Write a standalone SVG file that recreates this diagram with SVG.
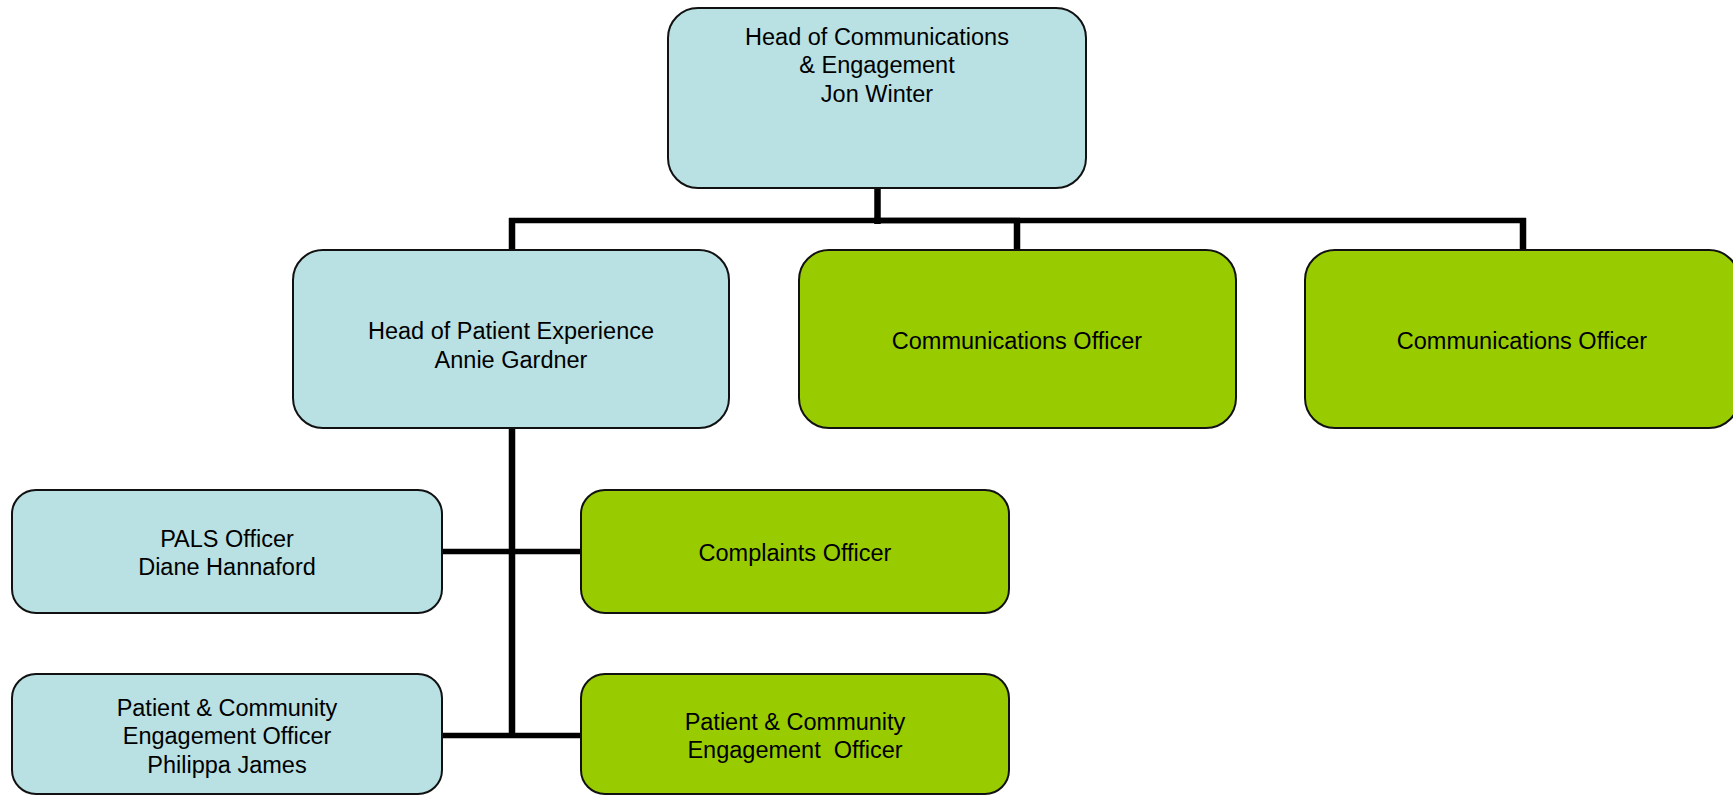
<svg xmlns="http://www.w3.org/2000/svg" width="1733" height="795" viewBox="0 0 1733 795">
<style>
.blue{fill:#B9E0E3;stroke:#111;stroke-width:2}
.green{fill:#99CC00;stroke:#111;stroke-width:2}
text{font-family:"Liberation Sans",Arial,sans-serif;font-size:23.5px;fill:#000;text-anchor:middle}
.h{stroke:#000;stroke-width:5.5;fill:none}
.v{stroke:#000;stroke-width:6.5;fill:none}
</style>
<rect width="1733" height="795" fill="#fff"/>
<g id="connectors">
<line class="v" x1="877.5" y1="189" x2="877.5" y2="224"/>
<line class="h" x1="509" y1="220.5" x2="1526" y2="220.5"/>
<line class="h" x1="874" y1="220.5" x2="1020" y2="220.5" stroke-width="7.5"/>
<line class="v" x1="512" y1="218" x2="512" y2="249"/>
<line class="v" x1="1017" y1="218" x2="1017" y2="249"/>
<line class="v" x1="1523" y1="218" x2="1523" y2="249"/>
<line class="v" x1="512" y1="429" x2="512" y2="738"/>
<line class="h" x1="442" y1="551.5" x2="580" y2="551.5"/>
<line class="h" x1="442" y1="735.5" x2="580" y2="735.5"/>
</g>
<g id="head-comms">
<rect class="blue" x="668" y="8" width="418" height="180" rx="30"/>
<text x="877" y="45">Head of Communications</text>
<text x="877" y="73">&amp; Engagement</text>
<text x="877" y="102">Jon Winter</text>
</g>
<g id="head-patient">
<rect class="blue" x="293" y="250" width="436" height="178" rx="30"/>
<text x="511" y="339">Head of Patient Experience</text>
<text x="511" y="368">Annie Gardner</text>
</g>
<g id="comms-officer-1">
<rect class="green" x="799" y="250" width="437" height="178" rx="30"/>
<text x="1017" y="349">Communications Officer</text>
</g>
<g id="comms-officer-2">
<rect class="green" x="1305" y="250" width="434" height="178" rx="30"/>
<text x="1522" y="349">Communications Officer</text>
</g>
<g id="pals">
<rect class="blue" x="12" y="490" width="430" height="123" rx="24"/>
<text x="227" y="547">PALS Officer</text>
<text x="227" y="575">Diane Hannaford</text>
</g>
<g id="pce-officer-left">
<rect class="blue" x="12" y="674" width="430" height="120" rx="24"/>
<text x="227" y="716">Patient &amp; Community</text>
<text x="227" y="744">Engagement Officer</text>
<text x="227" y="773">Philippa James</text>
</g>
<g id="complaints">
<rect class="green" x="581" y="490" width="428" height="123" rx="24"/>
<text x="795" y="561">Complaints Officer</text>
</g>
<g id="pce-officer-right">
<rect class="green" x="581" y="674" width="428" height="120" rx="24"/>
<text x="795" y="730">Patient &amp; Community</text>
<text x="795" y="758" xml:space="preserve">Engagement  Officer</text>
</g>
</svg>
